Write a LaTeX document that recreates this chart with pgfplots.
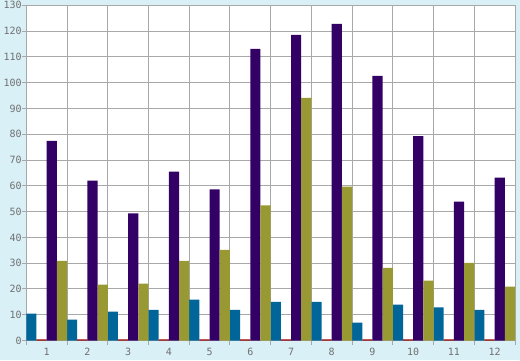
\documentclass[border=0pt]{standalone}
\usepackage{pgfplots}
\pgfplotsset{compat=1.18}
\usepackage{fontspec}
\setmainfont{DejaVu Sans Mono}
\definecolor{bg}{HTML}{D9F0F7}
\definecolor{gridc}{HTML}{A8A8A8}
\definecolor{labc}{HTML}{707070}
\definecolor{sblue}{HTML}{006699}
\definecolor{sred}{HTML}{990000}
\definecolor{spurple}{HTML}{330066}
\definecolor{solive}{HTML}{999933}
\begin{document}
\begin{tikzpicture}[x=1pt,y=1pt]
\fill[bg] (0,0) rectangle (520,360);
\useasboundingbox (0,0) rectangle (520,360);
\begin{axis}[
  at={(26.3pt,19.5pt)}, anchor=south west,
  scale only axis, width=488.7pt, height=335.2pt,
  xmin=-0.5, xmax=11.5, ymin=0, ymax=130,
  axis background/.style={fill=white},
  axis line style={gridc, line width=0.9pt},
  grid style={gridc, line width=0.9pt},
  minor grid style={gridc, line width=0.9pt},
  xminorgrids, yminorgrids,
  xtick={0,1,...,11},
  xticklabels={1,2,3,4,5,6,7,8,9,10,11,12},
  minor xtick={-0.5,0.5,...,11.5},
  ytick={0,10,...,130},
  minor ytick={0,10,...,130},
  tick align=outside, major tick length=0pt, minor tick length=4pt,
  tick style={gridc, line width=0.9pt},
  minor tick style={gridc, line width=0.9pt},
  xtick pos=bottom, ytick pos=left,
  /pgf/number format/assume math mode=true,
  ticklabel style={font=\fontsize{10}{10}\selectfont, text=labc},
  xticklabel style={yshift=-4pt},
  yticklabel style={xshift=-1pt},
  ybar=0pt, bar width=0.25,
]
\addplot[fill=sblue, draw=none, bar shift=-0.375] coordinates {
(0,10.4) (1,8.1) (2,11.2) (3,11.9) (4,15.9) (5,11.9) (6,15.0) (7,15.0) (8,6.9) (9,13.9) (10,12.8) (11,11.9)};
\addplot[fill=sred, draw=none, bar shift=-0.125] coordinates {
(0,0.4) (1,0.4) (2,0.4) (3,0.4) (4,0.4) (5,0.4) (6,0.4) (7,0.4) (8,0.4) (9,0.4) (10,0.4) (11,0.4)};
\addplot[fill=spurple, draw=none, bar shift=0.125] coordinates {
(0,77.4) (1,62.0) (2,49.3) (3,65.5) (4,58.6) (5,113.1) (6,118.5) (7,122.8) (8,102.6) (9,79.3) (10,53.9) (11,63.2)};
\addplot[fill=solive, draw=none, bar shift=0.375] coordinates {
(0,30.9) (1,21.7) (2,22.1) (3,30.9) (4,35.1) (5,52.4) (6,94.1) (7,59.7) (8,28.2) (9,23.2) (10,30.1) (11,20.9)};
\end{axis}
\end{tikzpicture}
\end{document}
